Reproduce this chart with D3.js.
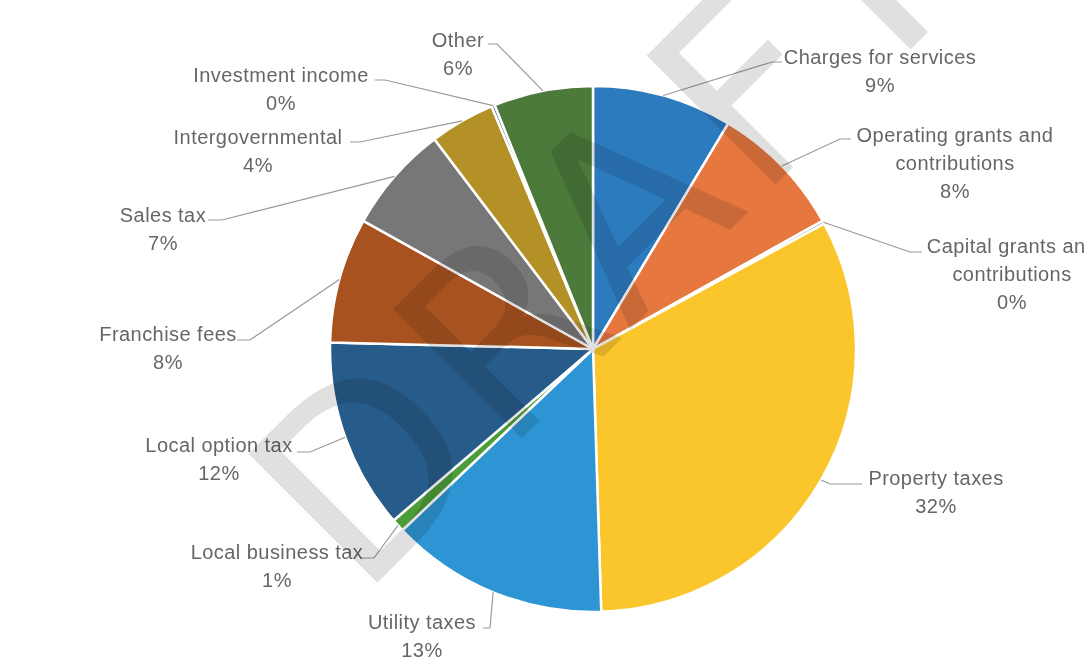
<!DOCTYPE html>
<html>
<head>
<meta charset="utf-8">
<script src="https://cdn.jsdelivr.net/npm/d3@7"></script>
<style>
  body { margin: 0; background: #fff; }
  svg { display: block; }
  .lbl { font-family: "Liberation Sans", sans-serif; font-size: 20px; letter-spacing: 0.45px; fill: #666; }
  .leader { fill: none; stroke: #999; stroke-width: 1.2; }
</style>
</head>
<body>
<div id="chart"></div>
<script>
// revenue shares (percent), clockwise from 12 o'clock
var categories = ["Charges for services", "Operating grants and contributions", "Capital grants and contributions",
  "Property taxes", "Utility taxes", "Local business tax", "Local option tax", "Franchise fees",
  "Sales tax", "Intergovernmental", "Investment income", "Other"];
var values = [8.6, 8.3, 0.2, 32.4, 13.4, 0.8, 11.7, 7.7, 6.6, 4.0, 0.2, 6.1];
var colors = ["#2c7bbf", "#e5773f", "#a5a5a5", "#fbc62c", "#2d95d3", "#4c9c38",
  "#275b8a", "#a8531f", "#777777", "#b39126", "#264478", "#4b7a3a"];

// label placement (Excel style, manual): text lines, centre x, first line y, leader elbow + end
var labelLayout = [
  { lines: ["Charges for services"], x: 880, y: 57, pts: [[772, 62], [782, 62]] },
  { lines: ["Operating grants and", "contributions"], x: 955, y: 135, pts: [[840, 139], [851, 139]] },
  { lines: ["Capital grants and", "contributions"], x: 1012, y: 246, pts: [[910, 252], [922, 252]] },
  { lines: ["Property taxes"], x: 936, y: 478, pts: [[830, 484], [862, 484]] },
  { lines: ["Utility taxes"], x: 422, y: 622, pts: [[490, 628], [483, 628]] },
  { lines: ["Local business tax"], x: 277, y: 552, pts: [[374, 558], [362, 558]] },
  { lines: ["Local option tax"], x: 219, y: 445, pts: [[310, 452], [297, 452]] },
  { lines: ["Franchise fees"], x: 168, y: 334, pts: [[250, 340], [237, 340]] },
  { lines: ["Sales tax"], x: 163, y: 215, pts: [[222, 220], [208, 220]] },
  { lines: ["Intergovernmental"], x: 258, y: 137, pts: [[360, 142], [350, 142]] },
  { lines: ["Investment income"], x: 281, y: 75, pts: [[385, 80], [375, 80]] },
  { lines: ["Other"], x: 458, y: 40, pts: [[497, 44], [488, 44]] }
];

var width = 1086, height = 660;
var cx = 593, cy = 349, radius = 263;
var lineH = 28;

var data = categories.map(function (c, i) { return { name: c, value: values[i], color: colors[i], layout: labelLayout[i] }; });

var svg = d3.select("#chart").append("svg")
  .attr("width", width)
  .attr("height", height);

var pie = d3.pie().sort(null).value(function (d) { return d.value; });
var arc = d3.arc().innerRadius(0).outerRadius(radius);
var arcs = pie(data);
var total = d3.sum(values);

var g = svg.append("g").attr("transform", "translate(" + cx + "," + cy + ")");

g.selectAll("path.slice")
  .data(arcs)
  .enter().append("path")
  .attr("class", "slice")
  .attr("d", arc)
  .attr("fill", function (d) { return d.data.color; })
  .attr("stroke", "#fff")
  .attr("stroke-width", 2.5)
  .attr("stroke-linejoin", "round");

// leader lines: from slice edge at mid angle to label
function edgePoint(d) {
  var a = (d.startAngle + d.endAngle) / 2;
  return [cx + radius * Math.sin(a), cy - radius * Math.cos(a)];
}

svg.selectAll("path.leader")
  .data(arcs)
  .enter().append("path")
  .attr("class", "leader")
  .attr("d", function (d) {
    return d3.line()([edgePoint(d)].concat(d.data.layout.pts));
  });

var fmt = function (v) { return Math.round(v / total * 100) + "%"; };

var labels = svg.selectAll("text.lbl")
  .data(arcs)
  .enter().append("text")
  .attr("class", "lbl")
  .attr("text-anchor", "middle")
  .attr("x", function (d) { return d.data.layout.x; })
  .attr("y", function (d) { return d.data.layout.y; });

labels.each(function (d) {
  var t = d3.select(this);
  var lines = d.data.layout.lines.concat([fmt(d.data.value)]);
  lines.forEach(function (s, i) {
    t.append("tspan")
      .attr("x", d.data.layout.x)
      .attr("y", d.data.layout.y + i * lineH)
      .attr("dy", "0.35em")
      .text(s);
  });
});

// DRAFT watermark
svg.append("text")
  .attr("transform", "translate(360,600) rotate(-45)")
  .attr("font-family", "DejaVu Sans, sans-serif")
  .attr("font-size", 250)
  .attr("letter-spacing", 12)
  .attr("fill", "#e0e0e0")
  .style("mix-blend-mode", "multiply")
  .text("DRAFT");
</script>
</body>
</html>
